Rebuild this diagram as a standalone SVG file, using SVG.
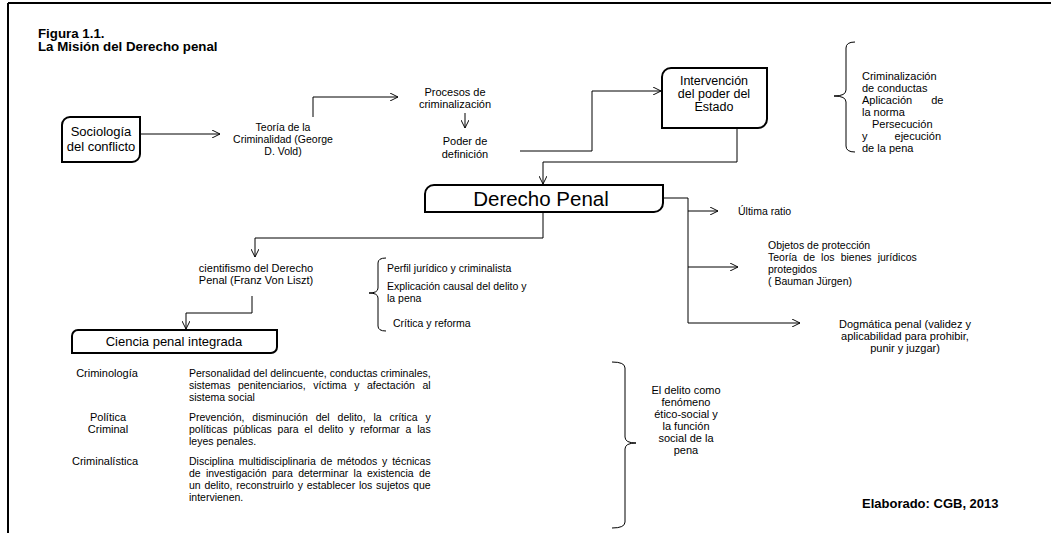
<svg xmlns="http://www.w3.org/2000/svg" width="1051" height="533" viewBox="0 0 1051 533">
<style>
text{font-family:"Liberation Sans",Arial,sans-serif;fill:#000}
.t{font-size:10.5px}
.m{font-size:11px}
.c{text-anchor:middle}
.b{font-size:13px}
.title{font-size:13.3px;font-weight:bold}
.box{fill:#fff;stroke:#000;stroke-width:2}
.ln{fill:none;stroke:#000;stroke-width:1}
.ar{fill:none;stroke:#000;stroke-width:1;marker-end:url(#ah)}
</style>
<defs>
<marker id="ah" viewBox="0 0 10 10" refX="10" refY="5" markerWidth="8" markerHeight="8" markerUnits="userSpaceOnUse" orient="auto">
<path d="M0,0 L10,5 L0,10" fill="none" stroke="#000" stroke-width="1.2"/>
</marker>
</defs>
<rect width="1051" height="533" fill="#fff"/>
<g id="frame">
<line x1="8" y1="3" x2="1051" y2="3" stroke="#000" stroke-width="2"/>
<line x1="8" y1="3" x2="8" y2="533" stroke="#000" stroke-width="2"/>
</g>
<g id="title">
<text class="title" x="38" y="38">Figura 1.1.</text>
<text class="title" x="38" y="51">La Misión del Derecho penal</text>
</g>
<g id="connectors">
<line class="ar" x1="141" y1="134" x2="220" y2="134"/>
<polyline class="ar" points="313,117 313,97 398,97"/>
<line class="ar" x1="465" y1="113" x2="465" y2="128"/>
<polyline class="ar" points="520,151 592,151 592,91 661,91"/>
<polyline class="ar" points="737,129 737,162 543,162 543,184"/>
<polyline class="ln" points="664,198 688,198 688,323"/>
<line class="ar" x1="688" y1="211" x2="718" y2="211"/>
<line class="ar" x1="688" y1="267" x2="738" y2="267"/>
<line class="ar" x1="688" y1="323" x2="800" y2="323"/>
<polyline class="ar" points="543,213 543,238 255,238 255,257"/>
<polyline class="ar" points="252,296 252,313 186,313 186,329"/>
<path class="ln" d="M855,42 Q846,42 846,48 V90 Q846,96 834,96 Q846,96 846,102 V146 Q846,152 855,152"/>
<path class="ln" d="M386,258 Q378,258 378,263 V288 Q378,293 369,293 Q378,293 378,298 V326 Q378,331 386,331"/>
<path class="ln" d="M612,362 Q625,362 625,368 V437 Q625,443 636,443 Q625,443 625,449 V522 Q625,528 612,528"/>
</g>
<g id="sociologia">
<path class="box" d="M70,117 H140 V154 A8,8 0 0 1 132,162 H62 V125 A8,8 0 0 1 70,117 Z"/>
<text class="b c" x="101" y="136">Sociología</text>
<text class="b c" x="101" y="151">del conflicto</text>
</g>
<g id="teoria">
<text class="t c" x="283" y="131">Teoría de la</text>
<text class="t c" x="283" y="143">Criminalidad (George</text>
<text class="t c" x="283" y="155">D. Vold)</text>
</g>
<g id="procesos">
<text class="m c" x="455" y="96">Procesos de</text>
<text class="m c" x="455" y="108">criminalización</text>
</g>
<g id="poder">
<text class="m c" x="465" y="145">Poder de</text>
<text class="m c" x="465" y="158">definición</text>
</g>
<g id="intervencion">
<path class="box" d="M671,68 H767 V119 A9,9 0 0 1 758,128 H662 V77 A9,9 0 0 1 671,68 Z"/>
<text class="c" font-size="12.5" x="714" y="85">Intervención</text>
<text class="c" font-size="12.5" x="714" y="98">del poder del</text>
<text class="c" font-size="12.5" x="714" y="111">Estado</text>
</g>
<g id="funciones">
<text class="m" x="862" y="80">Criminalización</text>
<text class="m" x="862" y="92">de conductas</text>
<text class="m" x="862" y="104" word-spacing="16">Aplicación de</text>
<text class="m" x="862" y="116">la norma</text>
<text class="m" x="872" y="128">Persecución</text>
<text class="m" x="862" y="140" word-spacing="24">y ejecución</text>
<text class="m" x="862" y="152">de la pena</text>
</g>
<g id="derecho-penal">
<path class="box" d="M434,185 H663 V203 A9,9 0 0 1 654,212 H425 V194 A9,9 0 0 1 434,185 Z"/>
<text class="c" font-size="20.5" x="541" y="206">Derecho Penal</text>
</g>
<g id="ultima">
<text class="t" x="738" y="215">Última ratio</text>
</g>
<g id="objetos">
<text class="t" x="768" y="249">Objetos de protección</text>
<text class="t" x="768" y="261" word-spacing="3.2">Teoría de los bienes jurídicos</text>
<text class="t" x="768" y="273">protegidos</text>
<text class="t" x="768" y="285">( Bauman Jürgen)</text>
</g>
<g id="dogmatica">
<text class="m c" x="905" y="328">Dogmática penal (validez y</text>
<text class="m c" x="905" y="340">aplicabilidad para prohibir,</text>
<text class="m c" x="905" y="352">punir y juzgar)</text>
</g>
<g id="cientifismo">
<text class="m c" x="256" y="272">cientifismo del Derecho</text>
<text class="m c" x="256" y="284">Penal (Franz Von Liszt)</text>
</g>
<g id="liszt-aportes">
<text class="t" x="387" y="272">Perfil  jurídico y criminalista</text>
<text class="t" x="387" y="290">Explicación causal del delito y</text>
<text class="t" x="387" y="302">la pena</text>
<text class="t" x="393" y="327">Crítica y reforma</text>
</g>
<g id="ciencia">
<path class="box" d="M78,330 H277 V347 A6,6 0 0 1 271,353 H72 V336 A6,6 0 0 1 78,330 Z"/>
<text class="b c" x="174" y="346">Ciencia penal integrada</text>
</g>
<g id="criminologia">
<text class="m c" x="107" y="377">Criminología</text>
<text class="t" x="189" y="377">Personalidad del delincuente, conductas criminales,</text>
<text class="t" x="189" y="389" word-spacing="4.68">sistemas penitenciarios, víctima y afectación al</text>
<text class="t" x="189" y="401">sistema social</text>
</g>
<g id="politica">
<text class="m c" x="108" y="421">Política</text>
<text class="m c" x="108" y="433">Criminal</text>
<text class="t" x="189" y="421" word-spacing="4.97">Prevención, disminución del delito, la crítica y</text>
<text class="t" x="189" y="433" word-spacing="2.85">políticas públicas para el delito y reformar a las</text>
<text class="t" x="189" y="445">leyes penales.</text>
</g>
<g id="criminalistica">
<text class="m c" x="105" y="465">Criminalística</text>
<text class="t" x="189" y="465" word-spacing="1.88">Disciplina multidisciplinaria de métodos y técnicas</text>
<text class="t" x="189" y="477" word-spacing="2.33">de investigación para determinar la existencia de</text>
<text class="t" x="189" y="489" word-spacing="0.83">un delito, reconstruirlo y establecer los sujetos que</text>
<text class="t" x="189" y="501">intervienen.</text>
</g>
<g id="delito">
<text class="m c" x="686" y="394">El delito como</text>
<text class="m c" x="686" y="406">fenómeno</text>
<text class="m c" x="686" y="418">ético-social y</text>
<text class="m c" x="686" y="430">la función</text>
<text class="m c" x="686" y="442">social de la</text>
<text class="m c" x="686" y="454">pena</text>
</g>
<g id="credito">
<text font-size="13" font-weight="bold" x="862" y="508">Elaborado: CGB, 2013</text>
</g>
</svg>
